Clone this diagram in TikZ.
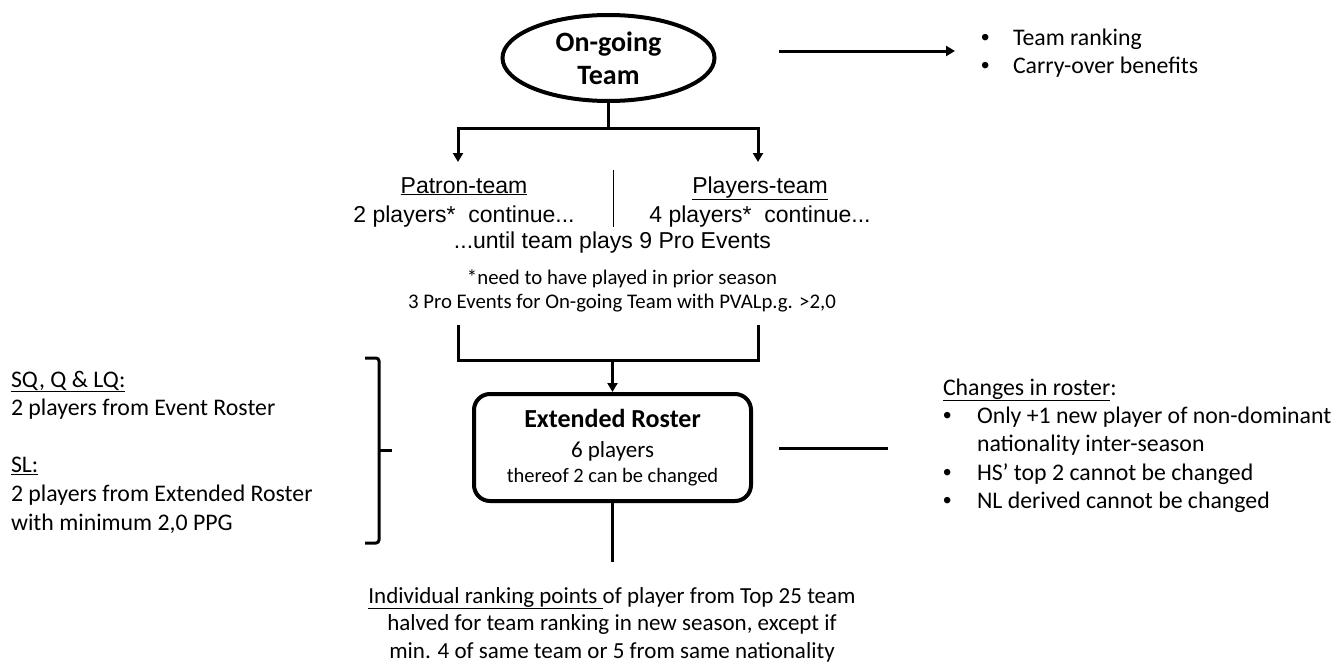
\documentclass[tikz,border=0pt]{standalone}
\usepackage{fontspec}
\setmainfont{Carlito}
\newfontfamily\arialf{Liberation Sans}
\usetikzlibrary{arrows.meta,shapes.geometric}
\newcommand{\bul}{{\arialf\textbullet}}
\tikzset{
  conn/.style={line width=3pt, line join=miter},
  tip/.tip={Triangle[length=9pt,width=10pt]},
  txt/.style={inner sep=0pt, outer sep=0pt},
  body/.style={txt, font=\fontsize{23.8}{28.4}\selectfont},
}
\begin{document}
\begin{tikzpicture}[x=1pt,y=-1pt]
\useasboundingbox (0,0) rectangle (1333,664);

% On-going team ellipse
\node[ellipse, draw, line width=4pt, minimum width=212pt, minimum height=86pt,
      inner sep=0pt, align=center, font=\bfseries\fontsize{28}{33}\selectfont]
      (ogt) at (608.5,58) {On-going\\Team};

% top right arrow and bullets
\coordinate (t1) at (779,51);
\coordinate (t2) at (955,51);
\draw[conn,-tip] (t1) -- (t2);
\node[body, anchor=base west] (tr) at (981,45)
  {\begin{tabular}[t]{@{}p{32pt}@{}l@{}}\bul & Team ranking\\ \bul & Carry-over benefits\end{tabular}};

% split
\coordinate (j1) at (608.5,128);
\coordinate (jl) at (458,128);
\coordinate (jr) at (758,128);
\coordinate (al) at (458,162);
\coordinate (ar) at (758,162);
\draw[conn] (ogt.south) -- (j1);
\draw[conn,tip-tip] (al) -- (jl) -- (jr) -- (ar);

% patron / players
\node[txt, anchor=base, font=\arialf\fontsize{23}{29}\selectfont] (patron) at (464,193)
  {\begin{tabular}[t]{@{}c@{}}\underline{Patron-team}\\ 2 players*\ \ continue...\end{tabular}};
\node[txt, anchor=base, font=\arialf\fontsize{23}{29}\selectfont] (players) at (760,193)
  {\begin{tabular}[t]{@{}c@{}}\underline{Players-team}\\ 4 players*\ \ continue...\end{tabular}};
\coordinate (d1) at (613,170);
\coordinate (d2) at (613,227);
\draw[line width=1pt] (d1) -- (d2);
\node[txt, anchor=base, font=\arialf\fontsize{23}{29}\selectfont] (until) at (612.5,248)
  {...until team plays 9 Pro Events};
\node[txt, anchor=base, font=\fontsize{20.8}{24}\selectfont] (need) at (622,284)
  {\begin{tabular}[t]{@{}c@{}}*need to have played in prior season\\ 3 Pro Events for On-going Team with PVALp.g. {>}2,0\end{tabular}};

% merge
\coordinate (ml) at (458,325);
\coordinate (mr) at (758,325);
\coordinate (mbl) at (458,360);
\coordinate (mbr) at (758,360);
\coordinate (mm) at (612.5,360);
\draw[conn] (ml) -- (mbl) -- (mbr) -- (mr);

% extended roster box
\node[draw, rounded corners=16pt, line width=4pt, minimum width=277pt, minimum height=107pt,
      inner sep=0pt, align=center, font=\fontsize{23}{30}\selectfont]
      (er) at (612.5,447.5)
  {{\bfseries\fontsize{26}{30}\selectfont Extended Roster}\\ 6 players\\[-5pt]
   {\fontsize{20.5}{25}\selectfont thereof 2 can be changed}};
\draw[conn,-tip] (mm) -- (er.north);

% bottom line and text
\coordinate (bot) at (612.5,562);
\draw[conn] (er.south) -- (bot);
\node[txt, anchor=base, font=\fontsize{23}{27.5}\selectfont] (indiv) at (612,603)
  {\begin{tabular}[t]{@{}c@{}}\underline{Individual ranking points\ }of player from Top 25 team\\
   halved for team ranking in new season, except if\\
   min. 4 of same team or 5 from same nationality\end{tabular}};

% right side line and changes
\coordinate (c1) at (779,448);
\coordinate (c2) at (888,448);
\draw[conn] (c1) -- (c2);
\node[body, anchor=base west] (chg) at (943,395)
  {\begin{tabular}[t]{@{}p{34pt}@{}l@{}}\multicolumn{2}{@{}l@{}}{\underline{Changes in roster}:}\\
   \bul & Only +1 new player of non-dominant\\
   & nationality inter-season\\
   \bul & HS’ top 2 cannot be changed\\
   \bul & NL derived cannot be changed\end{tabular}};

% left side text and brace
\node[txt, anchor=base west, font=\fontsize{23.8}{28.6}\selectfont] (left) at (11,387)
  {\begin{tabular}[t]{@{}l@{}}\underline{SQ, Q \& LQ:}\\ 2 players from Event Roster\\[28.6pt]
   \underline{SL:}\\ 2 players from Extended Roster\\ with minimum 2,0 PPG\end{tabular}};
\coordinate (bt) at (365,358);
\coordinate (bb) at (365,543);
\coordinate (btip) at (392,450);
\draw[line width=3pt, rounded corners=3pt] (bt) -- (379,358) -- (379,543) -- (bb);
\draw[line width=3pt] (379,450) -- (btip);
\end{tikzpicture}
\end{document}
